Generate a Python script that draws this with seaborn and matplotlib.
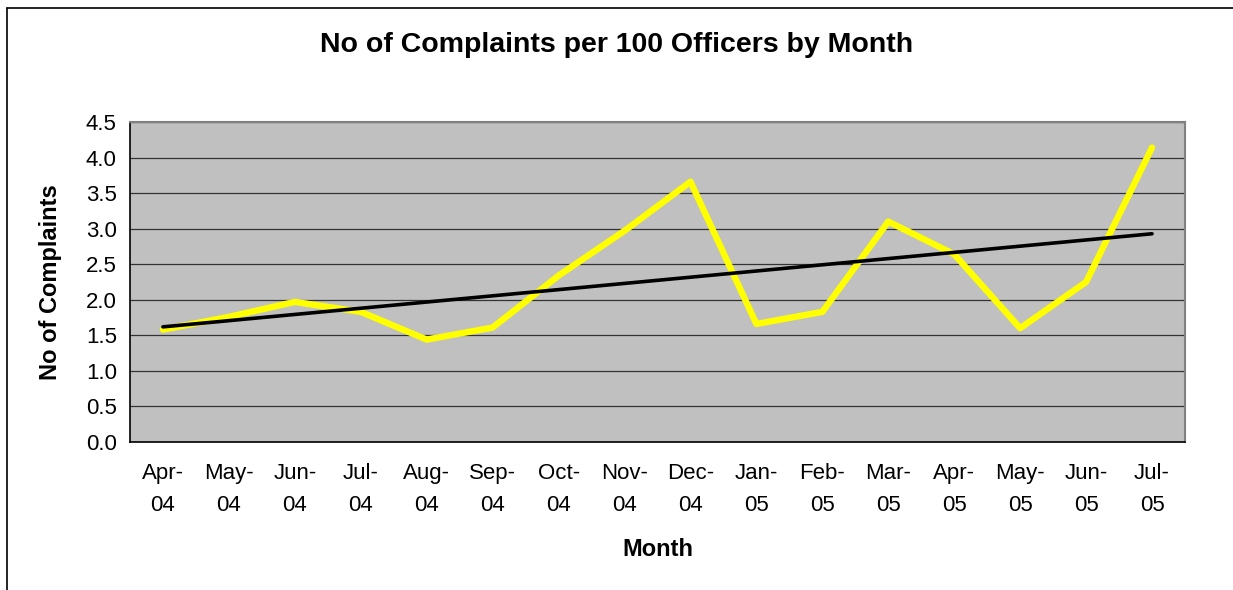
import numpy as np
import pandas as pd
import seaborn as sns
import matplotlib.pyplot as plt
from matplotlib.lines import Line2D

months = ["Apr-\n04", "May-\n04", "Jun-\n04", "Jul-\n04", "Aug-\n04", "Sep-\n04",
          "Oct-\n04", "Nov-\n04", "Dec-\n04", "Jan-\n05", "Feb-\n05", "Mar-\n05",
          "Apr-\n05", "May-\n05", "Jun-\n05", "Jul-\n05"]
complaints = [1.58, 1.76, 1.97, 1.83, 1.44, 1.61, 2.34, 2.97, 3.66, 1.66,
              1.83, 3.10, 2.64, 1.60, 2.25, 4.14]
y_ticks = [0.0, 0.5, 1.0, 1.5, 2.0, 2.5, 3.0, 3.5, 4.0, 4.5]

sns.set_style("white", {"axes.facecolor": "#c0c0c0", "text.color": "black",
                        "axes.labelcolor": "black", "xtick.color": "black",
                        "ytick.color": "black"})
plt.rcParams['font.family'] = ['Liberation Sans', 'DejaVu Sans']

df = pd.DataFrame({"pos": np.arange(len(months)), "val": complaints})
# linear trendline like the spreadsheet one
slope, icpt = np.polyfit(df["pos"], df["val"], 1)
df["trend"] = slope * df["pos"] + icpt

fig = plt.figure(figsize=(12.33, 5.9), dpi=100)
ax = fig.add_axes([130/1233, 1-442/590, 1055/1233, 320/590])

sns.lineplot(data=df, x="pos", y="val", color="#ffff00", linewidth=4.6, ax=ax)
sns.lineplot(data=df, x="pos", y="trend", color="black", linewidth=2.6, ax=ax)

ax.set_xlim(-0.5, len(months) - 0.5)
ax.set_ylim(0, 4.5)
ax.set_yticks(y_ticks)
ax.set_yticklabels([f"{v:.1f}" for v in y_ticks], fontsize=16)
ax.yaxis.grid(True, color="#333333", linewidth=0.9)
ax.set_axisbelow(True)

ax.set_xticks(np.arange(-0.5, len(months), 1.0))
ax.set_xticklabels([])
ax.set_xticks(np.arange(len(months)), minor=True)
ax.set_xticklabels(months, minor=True, fontsize=16, linespacing=1.7)
ax.tick_params(axis="x", which="minor", length=0, pad=15)
ax.tick_params(axis="both", which="major", direction="out", length=6, width=1, color="black")

for s in ["left", "bottom"]:
    ax.spines[s].set_color("black")
    ax.spines[s].set_linewidth(1.2)
for s in ["top", "right"]:
    ax.spines[s].set_color("#808080")
    ax.spines[s].set_linewidth(1.5)

ax.set_xlabel("Month", fontsize=17, fontweight="bold", labelpad=16)
ax.set_ylabel("No of Complaints", fontsize=17, fontweight="bold", labelpad=17)
fig.text(0.5, 1 - 45/590, "No of Complaints per 100 Officers by Month",
         ha="center", va="center", fontsize=20.5, fontweight="bold")

fig.add_artist(Line2D([7/1233, 7/1233], [0, 1 - 8/590], color="black", linewidth=1.2))
fig.add_artist(Line2D([7/1233, 1], [1 - 8/590, 1 - 8/590], color="black", linewidth=1.2))

fig.savefig("out.png", dpi=100)
